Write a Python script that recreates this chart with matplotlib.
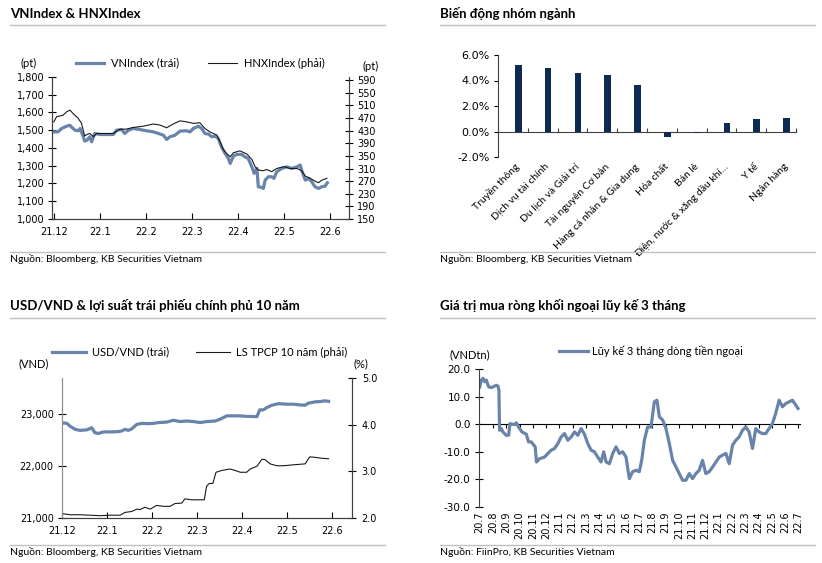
import numpy as np
import matplotlib
matplotlib.use('Agg')
import matplotlib.pyplot as plt
from matplotlib.lines import Line2D
from matplotlib.ticker import FuncFormatter

plt.rcParams['font.family'] = ['Lato', 'DejaVu Sans']
plt.rcParams['axes.unicode_minus'] = False
plt.rcParams['font.size'] = 8

W, H = 822, 563
BLUE = '#6984aa'
NAVY = '#0d2b52'
DARK = '#1a1a1a'
GREY = '#c0c0c0'
TICKFONT = 'DejaVu Sans'

# ---- chart 1: VNIndex & HNXIndex (x = months since 21.12) ----
vn_x = [0.0, 0.09, 0.17, 0.28, 0.35, 0.38, 0.46, 0.53, 0.57, 0.64,
        0.67, 0.72, 0.78, 0.82, 0.89, 1.00, 1.14, 1.29, 1.36, 1.47,
        1.54, 1.62, 1.72, 1.87, 2.01, 2.16, 2.27, 2.38, 2.45, 2.52,
        2.63, 2.74, 2.88, 2.96, 3.03, 3.14, 3.21, 3.28, 3.36, 3.43,
        3.50, 3.57, 3.64, 3.72, 3.79, 3.83, 3.90, 3.97, 4.08, 4.15,
        4.22, 4.30, 4.35, 4.41, 4.44, 4.51, 4.55, 4.59, 4.66, 4.73,
        4.78, 4.84, 4.95, 5.06, 5.17, 5.28, 5.35, 5.38, 5.46, 5.53,
        5.60, 5.67, 5.75, 5.82, 5.89, 5.94]
vn_y = [1491, 1491, 1510, 1523, 1528, 1519, 1500, 1497, 1510, 1463,
        1439, 1444, 1463, 1435, 1482, 1476, 1476, 1476, 1500, 1504,
        1482, 1500, 1510, 1504, 1497, 1491, 1482, 1472, 1448, 1463,
        1472, 1495, 1497, 1491, 1510, 1523, 1510, 1482, 1478, 1463,
        1467, 1454, 1407, 1369, 1341, 1313, 1354, 1364, 1364, 1350,
        1341, 1294, 1257, 1285, 1182, 1178, 1172, 1219, 1238, 1238,
        1229, 1266, 1285, 1294, 1285, 1294, 1304, 1276, 1219, 1229,
        1210, 1182, 1172, 1182, 1185, 1204]
hnx_x = [0.0, 0.06, 0.20, 0.28, 0.35, 0.42, 0.53, 0.60, 0.67, 0.72,
         0.78, 0.86, 0.93, 1.07, 1.29, 1.43, 1.58, 1.72, 1.94, 2.16,
         2.30, 2.45, 2.59, 2.74, 2.88, 3.03, 3.17, 3.28, 3.39, 3.54,
         3.61, 3.68, 3.75, 3.83, 3.90, 4.04, 4.19, 4.30, 4.37, 4.44,
         4.55, 4.62, 4.73, 4.84, 4.99, 5.13, 5.28, 5.38, 5.46, 5.57,
         5.67, 5.75, 5.82, 5.93]
hnx_y = [458, 474, 479, 490, 495, 484, 469, 453, 413, 418,
         421, 411, 421, 421, 421, 434, 435, 440, 444, 451,
         448, 439, 451, 461, 458, 453, 455, 437, 426, 416,
         395, 370, 358, 347, 360, 366, 356, 339, 316, 305,
         303, 307, 300, 310, 316, 310, 310, 303, 286, 279,
         270, 265, 273, 279]
months_1 = ['21.12', '22.1', '22.2', '22.3', '22.4', '22.5', '22.6']

# ---- chart 2: sector performance ----
sectors = ['Truyền thông', 'Dịch vụ tài chính', 'Du lịch và Giải trí',
           'Tài nguyên Cơ bản', 'Hàng cá nhân & Gia dụng', 'Hóa chất',
           'Bán lẻ', 'Điện, nước & xăng dầu khí…', 'Y tế', 'Ngân hàng']
sector_chg = [5.2, 5.0, 4.6, 4.4, 3.65, -0.4, -0.13, 0.67, 0.95, 1.05]

# ---- chart 3: USD/VND & 10y government bond yield ----
usd_x = [0.03, 0.10, 0.18, 0.29, 0.40, 0.55, 0.66, 0.73, 0.81, 0.92,
         1.07, 1.25, 1.33, 1.40, 1.47, 1.55, 1.66, 1.77, 1.92, 2.03,
         2.14, 2.33, 2.47, 2.62, 2.77, 2.92, 3.07, 3.21, 3.40, 3.51,
         3.66, 3.81, 3.95, 4.10, 4.33, 4.39, 4.47, 4.55, 4.66, 4.81,
         4.99, 5.14, 5.29, 5.40, 5.47, 5.62, 5.73, 5.84, 5.92]
usd_y = [22830, 22830, 22770, 22710, 22690, 22700, 22740, 22645, 22630, 22660,
         22660, 22665, 22680, 22710, 22690, 22720, 22805, 22825, 22820, 22825,
         22840, 22850, 22885, 22860, 22870, 22860, 22840, 22860, 22870, 22905,
         22970, 22970, 22970, 22960, 22955, 23085, 23085, 23130, 23175, 23205,
         23195, 23195, 23180, 23175, 23215, 23240, 23245, 23260, 23250]
bond_x = [0.03, 0.18, 0.40, 0.62, 0.84, 1.07, 1.29, 1.40, 1.55, 1.66,
          1.73, 1.84, 1.96, 2.10, 2.25, 2.40, 2.51, 2.66, 2.73, 2.88,
          3.03, 3.16, 3.21, 3.27, 3.35, 3.42, 3.55, 3.73, 3.84, 3.96,
          4.10, 4.18, 4.33, 4.39, 4.44, 4.51, 4.62, 4.77, 4.92, 5.14,
          5.40, 5.50, 5.62, 5.77, 5.92]
bond_y = [2.09, 2.07, 2.07, 2.06, 2.05, 2.06, 2.06, 2.12, 2.14, 2.19,
          2.18, 2.23, 2.19, 2.27, 2.25, 2.25, 2.31, 2.32, 2.41, 2.39,
          2.39, 2.39, 2.68, 2.74, 2.74, 2.98, 3.02, 3.05, 3.02, 2.98,
          2.98, 3.05, 3.11, 3.19, 3.26, 3.25, 3.16, 3.12, 3.12, 3.14,
          3.16, 3.31, 3.30, 3.28, 3.27]

# ---- chart 4: foreign net buying, 3-month cumulative (x = months since 20.7) ----
flow_x = [0.00, 0.13, 0.25, 0.38, 0.50, 0.68, 0.88, 1.13, 1.25, 1.38,
          1.45, 1.50, 1.63, 1.75, 2.00, 2.18, 2.28, 2.43, 2.63, 2.76,
          2.93, 3.18, 3.51, 3.68, 3.88, 4.08, 4.18, 4.28, 4.51, 4.88,
          5.14, 5.39, 5.64, 5.89, 6.14, 6.39, 6.64, 6.89, 7.14, 7.39,
          7.64, 7.89, 8.14, 8.39, 8.64, 8.89, 9.14, 9.34, 9.52, 9.77,
          10.02, 10.27, 10.52, 10.77, 11.02, 11.27, 11.52, 11.77, 12.02, 12.20,
          12.40, 12.65, 12.90, 13.15, 13.35, 13.53, 13.78, 14.03, 14.28, 14.53,
          14.78, 15.03, 15.28, 15.53, 15.78, 16.03, 16.28, 16.53, 16.78, 17.03,
          17.28, 17.54, 17.79, 18.04, 18.29, 18.54, 18.79, 19.04, 19.29, 19.54,
          19.79, 20.04, 20.29, 20.54, 20.79, 21.04, 21.29, 21.54, 21.79, 22.04,
          22.29, 22.55, 22.80, 23.05, 23.30, 23.55, 23.80, 23.97]
flow_y = [13.5, 16.0, 16.6, 15.4, 16.0, 13.5, 13.3, 13.8, 14.1, 13.8,
          12.3, -2.2, -1.6, -2.8, -4.0, -4.0, 0.2, 0.0, -0.1, 0.5,
          -1.0, -2.8, -3.6, -6.4, -6.4, -7.6, -8.2, -13.7, -12.5, -11.9,
          -10.6, -9.4, -8.8, -7.0, -4.6, -3.4, -5.8, -4.6, -2.8, -4.0,
          -1.6, -3.6, -7.0, -9.4, -10.0, -11.9, -13.7, -10.0, -13.7, -14.3,
          -10.6, -8.2, -10.6, -10.0, -11.9, -19.7, -17.2, -16.7, -17.2, -13.1,
          -5.8, -1.0, -1.0, 8.1, 8.7, 2.7, 1.5, -1.6, -7.0, -13.1,
          -15.5, -17.9, -20.3, -20.3, -17.9, -19.7, -17.9, -16.7, -13.1, -17.9,
          -17.2, -15.5, -13.7, -11.9, -11.2, -10.6, -14.3, -7.6, -5.8, -4.6,
          -2.2, -1.0, -2.8, -8.8, -1.6, -2.8, -3.4, -3.4, -1.6, 0.2,
          3.9, 8.7, 6.3, 7.5, 8.1, 8.7, 6.9, 5.7]
months_4 = ['20.7', '20.8', '20.9', '20.10', '20.11', '20.12', '21.1', '21.2',
            '21.3', '21.4', '21.5', '21.6', '21.7', '21.8', '21.9', '21.10',
            '21.11', '21.12', '22.1', '22.2', '22.3', '22.4', '22.5', '22.6', '22.7']

fig = plt.figure(figsize=(W / 100, H / 100), dpi=100)


def box(x0, y0, x1, y1):
    # pixel rectangle -> figure fraction
    return [x0 / W, 1 - y1 / H, (x1 - x0) / W, (y1 - y0) / H]


def header(x0, y_title, y_top, y_bot, title, source):
    fig.text(x0 / W, 1 - y_title / H, title, fontsize=9.5, fontweight='bold', va='center')
    fig.add_artist(Line2D([x0 / W, (x0 + 375) / W], [1 - y_top / H] * 2, color=GREY, lw=1))
    fig.add_artist(Line2D([x0 / W, (x0 + 375) / W], [1 - y_bot / H] * 2, color=GREY, lw=1))
    fig.text(x0 / W, 1 - (y_bot + 7) / H, source, fontsize=7.5, va='center')


def ftext(x, y, s, **kw):
    fig.text(x / W, 1 - y / H, s, va='center', fontsize=8, **kw)


header(10, 14, 25, 252, 'VNIndex & HNXIndex', 'Nguồn: Bloomberg, KB Securities Vietnam')
header(440, 14, 25, 252, 'Biến động nhóm ngành', 'Nguồn: Bloomberg, KB Securities Vietnam')
header(10, 306, 318, 545, 'USD/VND & lợi suất trái phiếu chính phủ 10 năm',
       'Nguồn: Bloomberg, KB Securities Vietnam')
header(440, 306, 318, 545, 'Giá trị mua ròng khối ngoại lũy kế 3 tháng',
       'Nguồn: FiinPro, KB Securities Vietnam')

# ---------- chart 1 ----------
ax1 = fig.add_axes(box(52, 77, 349, 219))
ax1r = ax1.twinx()
l1, = ax1.plot(vn_x, vn_y, color=BLUE, lw=2.3)
l2, = ax1r.plot(hnx_x, hnx_y, color=DARK, lw=0.8)
ax1.set_xlim(-0.04, 6.41)
ax1.set_ylim(1000, 1800)
ax1.set_yticks(np.arange(1000, 1801, 100))
ax1.yaxis.set_major_formatter(FuncFormatter(lambda v, p: f'{v:,.0f}'))
ax1r.set_ylim(150, 600)
ax1r.set_yticks(np.arange(150, 600, 40))
ax1.set_xticks(range(len(months_1)), months_1)
for a in (ax1, ax1r):
    a.spines['top'].set_visible(False)
    for s in ('left', 'right', 'bottom'):
        a.spines[s].set_color('#404040')
    a.tick_params(labelfontfamily=TICKFONT, labelsize=7)
ax1.tick_params(axis='y', direction='inout', length=6, pad=2)
ax1.tick_params(axis='x', direction='in', length=4, pad=6)
ax1r.tick_params(axis='y', direction='inout', length=6, pad=3)
ax1.legend([l1, l2], ['VNIndex (trái)', 'HNXIndex (phải)'], ncol=2, frameon=False,
           loc='center', bbox_to_anchor=(200 / W, 1 - 63 / H), bbox_transform=fig.transFigure,
           handlelength=2.6, columnspacing=2.6, handletextpad=0.6, fontsize=8)
ftext(20, 63, '(pt)')
ftext(362, 66, '(pt)')

# ---------- chart 2 ----------
ax2 = fig.add_axes(box(498, 55, 796, 157))
pos = np.arange(len(sectors))
ax2.bar(pos + 0.18, sector_chg, width=0.22, color=NAVY)
ax2.set_xlim(-0.5, len(sectors) - 0.5)
ax2.set_ylim(-2, 6)
ax2.set_yticks(np.arange(-2, 6.1, 2))
ax2.yaxis.set_major_formatter(FuncFormatter(lambda v, p: f'{v:.1f}%'))
ax2.set_xticks(pos + 0.18, sectors, rotation=45, ha='right', va='center',
               rotation_mode='anchor', fontsize=7.5)
ax2.tick_params(axis='x', length=0, pad=6)
ax2.tick_params(axis='y', direction='out', length=3, pad=3, labelsize=8,
                labelfontfamily=TICKFONT)
for s in ('top', 'right', 'bottom'):
    ax2.spines[s].set_visible(False)
ax2.spines['left'].set_color('#404040')
sec2 = ax2.secondary_xaxis(2 / 8)
sec2.set_xticks(pos + 0.5)
sec2.tick_params(direction='in', length=3, labelbottom=False, labeltop=False, color='#404040')
sec2.spines['bottom'].set_color('#404040')

# ---------- chart 3 ----------
ax3 = fig.add_axes(box(62, 378, 352, 518))
ax3r = ax3.twinx()
l3, = ax3.plot(usd_x, usd_y, color=BLUE, lw=2.3)
l4, = ax3r.plot(bond_x, bond_y, color=DARK, lw=0.8)
ax3.set_xlim(0, 6.44)
ax3.set_ylim(21000, 23700)
ax3.set_yticks([21000, 22000, 23000])
ax3.yaxis.set_major_formatter(FuncFormatter(lambda v, p: f'{v:,.0f}'))
ax3r.set_ylim(2, 5)
ax3r.set_yticks([2, 3, 4, 5])
ax3r.yaxis.set_major_formatter(FuncFormatter(lambda v, p: f'{v:.1f}'))
ax3.set_xticks(range(len(months_1)), months_1)
for a in (ax3, ax3r):
    a.spines['top'].set_visible(False)
    a.spines['bottom'].set_color('#404040')
    a.spines['right'].set_color('#404040')
    a.spines['left'].set_color('#909090')
    a.tick_params(labelfontfamily=TICKFONT, labelsize=7)
ax3.tick_params(axis='y', direction='inout', length=6, pad=3)
ax3.tick_params(axis='x', direction='in', length=4, pad=6)
ax3r.tick_params(axis='y', direction='inout', length=6, pad=4)
ax3.legend([l3, l4], ['USD/VND (trái)', 'LS TPCP 10 năm (phải)'], ncol=2, frameon=False,
           loc='center', bbox_to_anchor=(200 / W, 1 - 352 / H), bbox_transform=fig.transFigure,
           handlelength=3.0, columnspacing=2.4, handletextpad=0.6, fontsize=8)
ftext(18, 364, '(VND)')
ftext(353, 364, '(%)')

# ---------- chart 4 ----------
ax4 = fig.add_axes(box(479, 369, 800, 507))
l5, = ax4.plot(flow_x, flow_y, color=BLUE, lw=2.3)
ax4.set_xlim(-0.05, len(months_4) - 0.88)
ax4.set_ylim(-30, 20)
ax4.set_yticks(range(-30, 21, 10))
ax4.yaxis.set_major_formatter(FuncFormatter(lambda v, p: f'{v:.1f}'))
ax4.set_xticks(range(len(months_4)), months_4, rotation=90)
ax4.tick_params(axis='x', length=0, pad=3, labelfontfamily=TICKFONT, labelsize=7)
ax4.tick_params(axis='y', direction='inout', length=6, pad=3, labelfontfamily=TICKFONT,
                labelsize=7.5)
for s in ('top', 'right', 'bottom'):
    ax4.spines[s].set_visible(False)
ax4.spines['left'].set_color('#404040')
sec4 = ax4.secondary_xaxis(30 / 50)
sec4.set_xticks(range(1, len(months_4)))
sec4.tick_params(direction='in', length=3, labelbottom=False, labeltop=False)
sec4.spines['bottom'].set_linewidth(1.2)
ax4.legend([l5], ['Lũy kế 3 tháng dòng tiền ngoại'], frameon=False,
           loc='center', bbox_to_anchor=(651 / W, 1 - 351 / H), bbox_transform=fig.transFigure,
           handlelength=2.6, handletextpad=0.4, fontsize=8)
ftext(449, 355, '(VNDtn)')

fig.savefig('out.png', dpi=100)
